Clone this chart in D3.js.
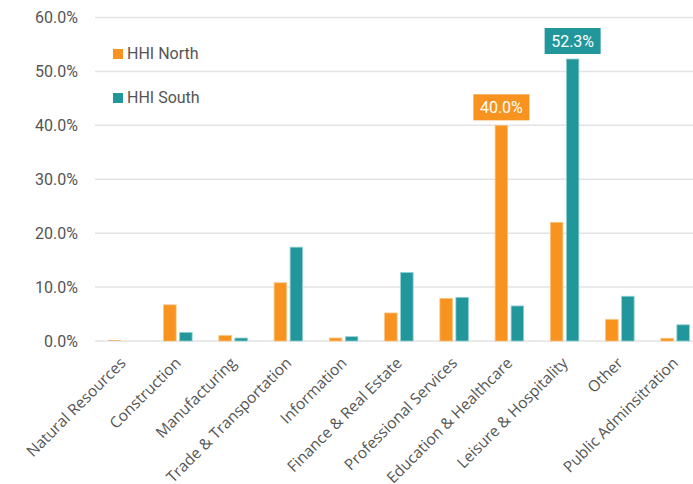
<!DOCTYPE html>
<html>
<head>
<meta charset="utf-8">
<script src="https://cdn.jsdelivr.net/npm/d3@7"></script>
<style>
  html, body { margin: 0; padding: 0; background: #fff; }
  svg { display: block; font-family: "Roboto", "DejaVu Sans", sans-serif; }
</style>
</head>
<body>
<svg id="chart" width="693" height="484"></svg>
<script>
// Industry categories along the x axis
const categories = [
  "Natural Resources", "Construction", "Manufacturing", "Trade & Transportation",
  "Information", "Finance & Real Estate", "Professional Services",
  "Education & Healthcare", "Leisure & Hospitality", "Other", "Public Adminsitration"
];
// Share of employment (%) per series
const northValues = [0.1, 6.7, 1.0, 10.8, 0.55, 5.2, 7.9, 40.0, 22.0, 4.0, 0.5];
const southValues = [0.0, 1.6, 0.55, 17.4, 0.8, 12.7, 8.1, 6.5, 52.3, 8.3, 3.0];
const seriesNames = ["HHI North", "HHI South"];
const seriesColors = ["#f7931e", "#21979c"];
const seriesStrokes = ["#fbc27f", "#8fd0d2"];
const yTicks = [0, 10, 20, 30, 40, 50, 60];
// Values called out with a label box: [series index, category index]
const callouts = [[0, 7], [1, 8]];

const svg = d3.select("#chart");
const series = [northValues, southValues];

const x = d3.scaleBand().domain(categories).range([95, 702.75]).paddingInner(0).paddingOuter(0);
const y = d3.scaleLinear().domain([0, 60]).range([341, 17.5]);

const barW = 12.5, barGap = 3.5;
const offset = i => x.bandwidth() / 2 - (barW * 2 + barGap) / 2 + i * (barW + barGap);

// Gridlines
svg.append("g")
  .selectAll("line")
  .data(yTicks)
  .join("line")
  .attr("x1", 95).attr("x2", 693)
  .attr("y1", d => y(d)).attr("y2", d => y(d))
  .attr("stroke", "#e3e3e3")
  .attr("stroke-width", 1.5);

// Y axis labels
const yAxis = d3.axisLeft(y).tickValues(yTicks).tickFormat(d => d.toFixed(1) + "%").tickSize(0).tickPadding(0);
svg.append("g")
  .attr("transform", "translate(78,0)")
  .call(yAxis)
  .call(g => g.select(".domain").remove())
  .selectAll("text")
  .attr("font-size", 16)
  .attr("fill", "#555")
  .attr("font-family", "Roboto, sans-serif");

// Bars
series.forEach((vals, si) => {
  svg.append("g")
    .selectAll("rect")
    .data(vals.map((v, i) => ({ v, c: categories[i] })))
    .join("rect")
    .attr("x", d => x(d.c) + offset(si))
    .attr("y", d => y(d.v))
    .attr("width", barW)
    .attr("height", d => y(0) - y(d.v))
    .attr("fill", seriesColors[si])
    .attr("stroke", seriesStrokes[si])
    .attr("stroke-width", d => d.v > 0.2 ? 0.8 : 0);
});

// Callout labels
callouts.forEach(([si, ci]) => {
  const v = series[si][ci];
  const cx = x(categories[ci]) + offset(si) + barW / 2;
  const boxW = 56, boxH = 26;
  const by = y(v) - 5 - boxH;
  svg.append("rect")
    .attr("x", cx - boxW / 2).attr("y", by)
    .attr("width", boxW).attr("height", boxH)
    .attr("fill", seriesColors[si]);
  svg.append("text")
    .attr("x", cx).attr("y", by + boxH / 2 + 6)
    .attr("text-anchor", "middle")
    .attr("font-size", 16)
    .attr("fill", "#fff")
    .text(v.toFixed(1) + "%");
});

// Category labels, rotated
const xAxis = d3.axisBottom(x).tickSize(0).tickPadding(0);
svg.append("g")
  .attr("transform", "translate(0,341)")
  .call(xAxis)
  .call(g => g.select(".domain").remove())
  .selectAll("text")
  .attr("font-size", 15.5)
  .attr("fill", "#555")
  .attr("font-family", "'Open Sans', sans-serif")
  .attr("text-anchor", "end")
  .attr("dy", null)
  .attr("transform", "translate(4,23) rotate(-45)");

// Legend
const legend = svg.append("g");
seriesNames.forEach((name, i) => {
  const ly = 49 + i * 44;
  legend.append("rect")
    .attr("x", 113).attr("y", ly)
    .attr("width", 10).attr("height", 10)
    .attr("fill", seriesColors[i]);
  legend.append("text")
    .attr("x", 127).attr("y", ly + 9.5)
    .attr("font-size", 16)
    .attr("fill", "#555")
    .text(name);
});
</script>
</body>
</html>
